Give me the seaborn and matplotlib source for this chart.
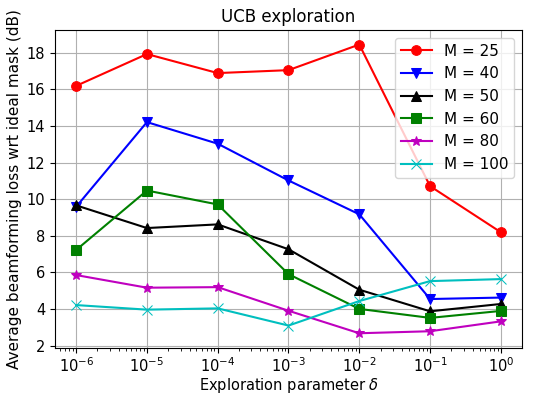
import matplotlib
matplotlib.use("Agg")
import matplotlib.pyplot as plt
import numpy as np
import pandas as pd
import seaborn as sns

# Exploration parameter values
delta = [1e-6, 1e-5, 1e-4, 1e-3, 1e-2, 1e-1, 1e0]

# Average beamforming loss (dB) for each number of antennas M
m25 = [16.19, 17.93, 16.89, 17.05, 18.45, 10.71, 8.19]
m40 = [9.58, 14.21, 13.03, 11.02, 9.17, 4.54, 4.62]
m50 = [9.66, 8.42, 8.62, 7.26, 5.05, 3.87, 4.27]
m60 = [7.22, 10.47, 9.71, 5.90, 4.00, 3.51, 3.89]
m80 = [5.85, 5.16, 5.19, 3.90, 2.67, 2.78, 3.32]
m100 = [4.21, 3.96, 4.03, 3.09, 4.43, 5.52, 5.63]

labels = ["M = 25", "M = 40", "M = 50", "M = 60", "M = 80", "M = 100"]
series = [m25, m40, m50, m60, m80, m100]
colors = ["red", "blue", "black", "green", "m", "c"]
markers = ["o", "v", "^", "s", "*", "x"]

frames = []
for lab, vals in zip(labels, series):
    frames.append(pd.DataFrame({"delta": delta, "loss": vals, "M": lab}))
df = pd.concat(frames, ignore_index=True)

fig, ax = plt.subplots(figsize=(5.49, 3.96), dpi=100)

for lab, col, mk in zip(labels, colors, markers):
    sub = df[df["M"] == lab]
    sns.lineplot(data=sub, x="delta", y="loss", ax=ax, color=col, marker=mk,
                 markersize=7, markeredgecolor=col, linewidth=1.5, label=lab)

ax.set_xscale("log")
ax.set_xticks(delta)
ax.set_yticks([2, 4, 6, 8, 10, 12, 14, 16, 18])
ax.tick_params(labelsize=10.5)
ax.tick_params(axis="x", pad=2.5)
ax.grid(True, which="major", color="#b0b0b0", linewidth=0.8)
ax.set_title("UCB exploration", fontsize=12)
ax.set_xlabel(r"Exploration parameter $\delta$", fontsize=10.5, labelpad=1)
ax.set_ylabel("Average beamforming loss wrt ideal mask (dB)", fontsize=11, labelpad=3)
ax.legend(loc="upper right", fontsize=11)

fig.subplots_adjust(left=0.1, right=0.951, top=0.924, bottom=0.122)
fig.savefig("out.png", dpi=100)
